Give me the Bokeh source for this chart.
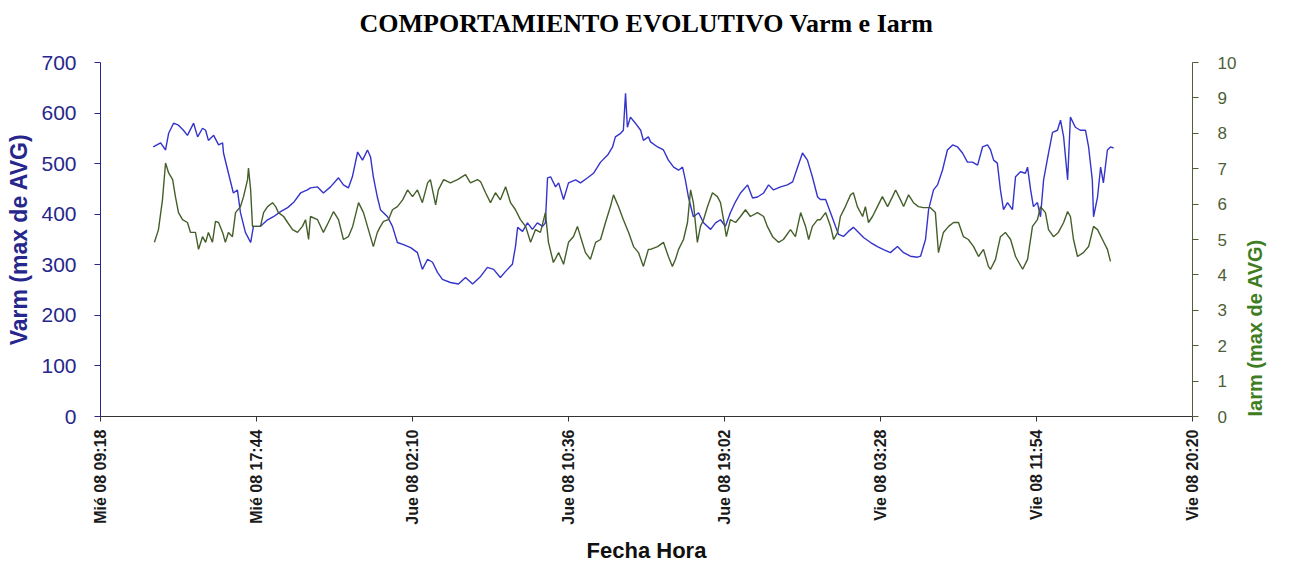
import math
from bokeh.plotting import figure
from bokeh.models import LinearAxis, Range1d, FixedTicker, ColumnDataSource, Title
from bokeh.embed import file_html
from bokeh.resources import INLINE

# ---------------- data ----------------
# x: minutes elapsed since "Mié 08 09:18"
tick_labels = ["Mié 08 09:18", "Mié 08 17:44", "Jue 08 02:10", "Jue 08 10:36",
               "Jue 08 19:02", "Vie 08 03:28", "Vie 08 11:54", "Vie 08 20:20"]
tick_minutes = [0, 506, 1012, 1518, 2024, 2530, 3036, 3542]

varm_t = [171, 195, 211, 221, 237, 253, 269, 282, 302, 315, 331, 341, 350, 367, 383, 396, 399,
          415, 431, 444, 454, 470, 487, 496, 519, 542, 561, 584, 607, 626, 649, 671,
          681, 704, 723, 746, 772, 788, 804, 817, 834, 850, 866, 876, 885, 898, 908, 931, 947,
          963, 983, 1006, 1028, 1044, 1061, 1077, 1093, 1109, 1135, 1161, 1184, 1207,
          1233, 1255, 1275, 1297, 1314, 1336, 1346, 1353, 1369, 1385, 1401, 1417, 1434, 1443,
          1450, 1460, 1476, 1486, 1502, 1518, 1541, 1557, 1580, 1599, 1622, 1645, 1661, 1670,
          1687, 1696, 1703, 1709, 1719, 1735, 1752, 1761, 1777,
          1784, 1807, 1826, 1842, 1859, 1875, 1888, 1897, 1907, 1923, 1940, 1956, 1979, 1995,
          2011, 2027, 2043, 2060, 2076, 2099, 2115, 2131, 2151, 2167, 2183, 2206, 2228, 2245,
          2261, 2277, 2293, 2309, 2326,
          2335, 2352, 2368, 2384, 2394, 2410, 2426, 2442, 2459, 2475, 2498, 2520, 2540, 2562,
          2585, 2605, 2627, 2650, 2660, 2676, 2686, 2702, 2715, 2731, 2747, 2764, 2780, 2796,
          2812, 2828, 2845, 2861, 2877,
          2887, 2897, 2909, 2919, 2929, 2942, 2958, 2968, 2984, 3000, 3007, 3017, 3026, 3039,
          3049, 3059, 3075, 3088, 3104, 3114, 3124, 3137, 3146, 3162, 3178, 3195, 3205, 3217,
          3221, 3234, 3244, 3253, 3266, 3276, 3286]
varm_v = [533, 541, 527, 560, 580, 576, 566, 556, 580, 553, 570, 566, 546, 556, 537, 541, 521,
          481, 442, 448, 403, 364, 344, 376, 376, 389, 395, 405, 413, 423, 442, 448,
          452, 454, 442, 454, 472, 458, 452, 474, 523, 507, 527, 513, 474, 434, 409, 395, 376,
          344, 340, 334, 324, 291, 311, 305, 285, 271, 265, 262, 275, 262,
          277, 295, 291, 275, 287, 301, 336, 374, 366, 383, 370, 383, 376, 383,
          472, 474, 454, 462, 429, 462, 468, 462, 472, 481, 503, 517, 533, 553,
          560, 566, 639, 572, 592, 580, 566, 546, 553,
          543, 533, 527, 507, 493, 487, 493, 468, 434, 395, 403, 383, 370, 383,
          389, 376, 403, 425, 442, 458, 432, 434, 442, 458, 448, 454, 458, 464,
          493, 521, 507, 474, 434,
          429, 429, 403, 376, 360, 356, 366, 374, 364, 354, 344, 336, 330, 324,
          336, 324, 317, 315, 317, 350, 409, 448, 458, 487, 527, 537, 533, 521,
          503, 503, 497, 533, 537,
          527, 507, 501, 448, 409, 423, 409, 474, 484, 481, 493, 448, 415, 423,
          395, 468, 521, 562, 566, 586, 553, 468, 592, 572, 566, 566, 533, 468,
          395, 434, 493, 462, 527, 533, 531]

iarm_t = [175, 188, 201, 211, 221, 234, 243, 253, 266, 282, 292, 308, 318, 331, 341, 350, 363,
          373, 383, 396, 405, 415, 428, 438, 454, 464, 477, 480, 487, 493, 503, 519, 529, 542,
          558, 568, 577, 594, 607, 623, 639, 655, 665, 675,
          681, 704, 723, 739, 756, 772, 788, 804, 818, 837, 853, 869, 885, 898, 908, 918, 934,
          947, 963, 980, 996, 1012, 1028, 1044, 1061, 1070, 1087, 1096, 1113, 1135, 1158, 1184,
          1200, 1223,
          1233, 1249, 1265, 1281, 1297, 1314, 1330, 1346, 1362, 1379, 1395, 1411, 1427, 1443,
          1453, 1469, 1486, 1502, 1518, 1534, 1547, 1557, 1573, 1589, 1606, 1622, 1638, 1654,
          1664, 1680, 1696, 1713, 1729, 1745, 1761, 1777,
          1784, 1807, 1826, 1842, 1855, 1865, 1875, 1891, 1904, 1914, 1923, 1936, 1946, 1956,
          1969, 1985, 2001, 2011, 2021, 2030, 2043, 2060, 2076, 2092, 2108, 2131, 2151, 2163,
          2180, 2199, 2215, 2238, 2254, 2271, 2287, 2297, 2309, 2326,
          2335, 2352, 2368, 2378, 2391, 2400, 2416, 2433, 2442, 2455, 2472, 2481, 2491, 2504,
          2520, 2536, 2553, 2569, 2579, 2595, 2605, 2621, 2637, 2653, 2669, 2692, 2708, 2718,
          2734, 2751, 2767, 2783, 2799, 2815, 2832, 2848, 2864, 2880,
          2887, 2903, 2919, 2935, 2952, 2968, 2991, 3007, 3023, 3039, 3049, 3065, 3075, 3091,
          3107, 3124, 3137, 3146, 3156, 3169, 3188, 3205, 3221, 3234, 3250, 3266, 3276]
iarm_v = [4.92, 5.28, 6.12, 7.16, 6.88, 6.69, 6.21, 5.76, 5.56, 5.48, 5.20, 5.20, 4.72, 5.08,
          4.92, 5.20, 4.92, 5.51, 5.48, 5.20, 4.92, 5.20, 5.08, 5.76, 5.93, 6.21, 6.69, 7.02,
          6.40, 5.37, 5.37, 5.37, 5.76, 5.93, 6.04, 5.93, 5.76, 5.65, 5.48, 5.28, 5.20, 5.37,
          5.56, 5.00,
          5.65, 5.56, 5.20, 5.48, 5.79, 5.56, 5.00, 5.08, 5.37, 6.04, 5.76, 5.28, 4.80, 5.20,
          5.37, 5.51, 5.56, 5.84, 5.93, 6.12, 6.40, 6.21, 6.40, 6.04, 6.60, 6.69, 5.98, 6.40,
          6.69, 6.60, 6.69, 6.83, 6.60, 6.69,
          6.63, 6.32, 6.04, 6.32, 6.12, 6.49, 6.04, 5.84, 5.56, 5.37, 4.92, 5.28, 5.20, 5.76,
          4.92, 4.35, 4.63, 4.30, 4.92, 5.08, 5.37, 5.08, 4.63, 4.44, 4.92, 5.00, 5.48, 5.93,
          6.26, 5.93, 5.56, 5.20, 4.80, 4.63, 4.24, 4.72,
          4.72, 4.80, 4.92, 4.52, 4.24, 4.44, 4.72, 5.00, 5.48, 6.40, 6.04, 4.92, 5.37, 5.56,
          5.93, 6.32, 6.21, 6.04, 5.56, 5.08, 5.56, 5.48, 5.65, 5.84, 5.65, 5.76, 5.65, 5.37,
          5.08, 4.92, 5.00, 5.28, 5.08, 5.76, 5.37, 5.00, 5.37, 5.56,
          5.56, 5.76, 5.37, 5.00, 5.20, 5.65, 5.93, 6.26, 6.32, 5.93, 5.65, 5.93, 5.48, 5.65,
          5.93, 6.21, 5.93, 6.21, 6.40, 6.12, 5.93, 6.26, 6.04, 5.93, 5.90, 5.90, 5.76, 4.63,
          5.20, 5.37, 5.48, 5.48, 5.08, 5.00, 4.80, 4.52, 4.72, 4.24,
          4.16, 4.44, 5.08, 5.20, 5.00, 4.52, 4.16, 4.44, 5.37, 5.56, 5.93, 5.76, 5.28, 5.08,
          5.20, 5.48, 5.79, 5.65, 5.00, 4.52, 4.63, 4.80, 5.37, 5.28, 5.00, 4.72, 4.38]

varm_ticks = [0, 100, 200, 300, 400, 500, 600, 700]
iarm_ticks = [0, 1, 2, 3, 4, 5, 6, 7, 8, 9, 10]

# ---------------- styling ----------------
BLUE_LINE = "#3434cc"
GREEN_LINE = "#455f2a"
NAVY = "#26268c"
OLIVE = "#4d5e35"
GREEN_LABEL = "#3f7d22"
SANS = "Liberation Sans"

p = figure(width=1285, height=565, output_backend="svg", toolbar_location=None,
           x_range=Range1d(tick_minutes[0], tick_minutes[-1]),
           y_range=Range1d(varm_ticks[0], varm_ticks[-1]),
           min_border_left=100, min_border_right=93, min_border_top=62, min_border_bottom=147,
           background_fill_color="white", border_fill_color="white")
p.outline_line_color = None
p.grid.visible = False
p.extra_y_ranges = {"i": Range1d(iarm_ticks[0], iarm_ticks[-1])}

p.title.text = "COMPORTAMIENTO EVOLUTIVO Varm e Iarm"
p.title.align = "center"
p.title.text_font = "Liberation Serif"
p.title.text_font_size = "26px"
p.title.text_font_style = "bold"
p.title.text_color = "black"
p.title.standoff = 0
# blank spacer between the plot area and the title
p.add_layout(Title(text=" ", text_font_size="2px", standoff=21), "above")

# lines
src_v = ColumnDataSource(dict(t=varm_t, v=varm_v))
src_i = ColumnDataSource(dict(t=iarm_t, v=iarm_v))
p.line("t", "v", source=src_v, line_color=BLUE_LINE, line_width=1.4)
p.line("t", "v", source=src_i, line_color=GREEN_LINE, line_width=1.4, y_range_name="i")

# x axis
xa = p.xaxis[0]
xa.ticker = FixedTicker(ticks=tick_minutes)
xa.major_label_overrides = {t: lab for t, lab in zip(tick_minutes, tick_labels)}
xa.major_label_orientation = math.pi / 2
xa.major_label_text_font = SANS
xa.major_label_text_font_size = "16px"
xa.major_label_text_font_style = "bold"
xa.major_label_text_color = "#1a1a1a"
xa.major_label_standoff = 8
xa.minor_tick_line_color = None
xa.major_tick_in = 0
xa.major_tick_out = 5
xa.axis_line_color = "#333333"
xa.major_tick_line_color = "#333333"
xa.axis_label = "Fecha Hora"
xa.axis_label_text_font = SANS
xa.axis_label_text_font_size = "22px"
xa.axis_label_text_font_style = "bold"
xa.axis_label_text_color = "#111111"
xa.axis_label_standoff = 10

# left axis
ya = p.yaxis[0]
ya.ticker = FixedTicker(ticks=varm_ticks)
ya.major_label_text_font = SANS
ya.major_label_text_font_size = "21px"
ya.major_label_text_color = NAVY
ya.major_label_standoff = 18
ya.minor_tick_line_color = None
ya.major_tick_in = 0
ya.major_tick_out = 6
ya.axis_line_color = NAVY
ya.major_tick_line_color = NAVY
ya.axis_label = "Varm (max de AVG)"
ya.axis_label_text_font = SANS
ya.axis_label_text_font_size = "23px"
ya.axis_label_text_font_style = "bold"
ya.axis_label_text_color = NAVY
ya.axis_label_standoff = 6

# right axis (ticks, numbers and title reading bottom-to-top)
ra = LinearAxis(y_range_name="i", ticker=FixedTicker(ticks=iarm_ticks))
ra.major_label_text_font = SANS
ra.major_label_text_font_size = "17px"
ra.major_label_text_color = OLIVE
ra.major_label_standoff = 19
ra.minor_tick_line_color = None
ra.major_tick_in = 0
ra.major_tick_out = 6
ra.axis_line_color = OLIVE
ra.major_tick_line_color = OLIVE
ra.axis_label = "Iarm (max de AVG)"
ra.axis_label_text_font = SANS
ra.axis_label_text_font_size = "20px"
ra.axis_label_text_font_style = "bold"
ra.axis_label_text_color = GREEN_LABEL
ra.axis_label_standoff = 16
ra.axis_label_orientation = math.pi / 2
ra.axis_label_align = "start"
p.add_layout(ra, "right")

open("out.html", "w").write(file_html(p, INLINE))
